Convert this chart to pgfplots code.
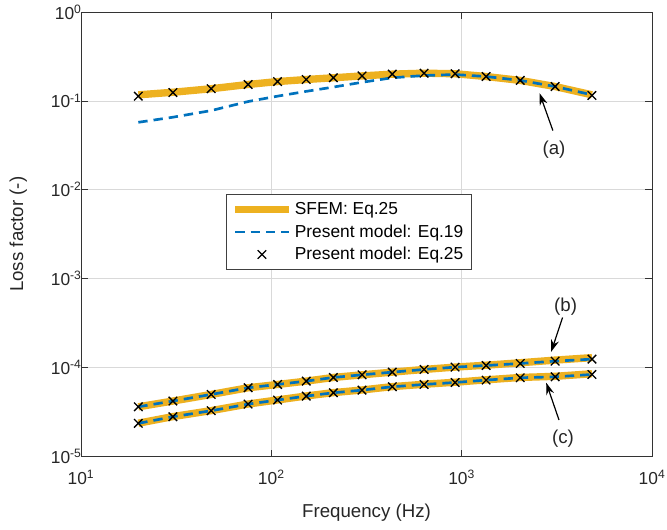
\documentclass[border=0pt]{standalone}
\usepackage{fontspec}
\setmainfont{Liberation Sans}
\usepackage{pgfplots}
\pgfplotsset{compat=1.18}
\usetikzlibrary{arrows.meta}
\definecolor{morange}{rgb}{0.929,0.694,0.125}
\definecolor{mblue}{rgb}{0,0.447,0.741}
\begin{document}
\begin{tikzpicture}[font=\fontsize{13}{15}\selectfont]
\useasboundingbox (-60.7pt,-54.7pt) rectangle (439.2pt,342pt);
\begin{axis}[
 at={(0pt,0pt)}, anchor=south west,
 width=428pt, height=333pt, scale only axis,
 xmode=log, ymode=log, log basis x=10, log basis y=10,
 xmin=10, xmax=1e4, ymin=1e-5, ymax=1,
 xtick={10,100,1000,10000}, ytick={1e-5,1e-4,1e-3,1e-2,1e-1,1},
 xticklabel={\pgfmathtruncatemacro\e{round(\tick)}10\textsuperscript{\e}},
 yticklabel={\pgfmathtruncatemacro\e{round(\tick)}10\textsuperscript{\e}},
 tick label style={font=\fontsize{13}{15}\selectfont, text=black!85},
 xticklabel style={yshift=-7pt},
 yticklabel style={xshift=4pt},
 label style={font=\fontsize{14}{16}\selectfont, text=black!85},
 xlabel style={at={(axis description cs:0.5,-0.126)}, anchor=center},
 ylabel style={at={(axis description cs:-0.110,0.5)}, anchor=center},
 grid=both,
 major grid style={black!15, line width=0.5pt},
 minor grid style={black!40, dotted, line width=0.5pt},
 tick align=inside, major tick length=5pt, minor tick length=2.8pt,
 every tick/.style={black!80, line width=0.5pt},
 axis line style={black!80, line width=0.6pt},
 xlabel={Frequency (Hz)}, ylabel={Loss factor (-)},
 legend cell align=left,
 legend style={at={(0.254,0.590)}, anchor=north west, draw=black!75, line width=0.5pt,
   fill=white, font=\fontsize{13}{15}\selectfont, inner xsep=4pt, inner ysep=4pt, row sep=2pt},
 legend image code/.code={\draw[mark repeat=2,mark phase=2,#1] plot coordinates {(0cm,0cm) (0.7cm,0cm) (1.4cm,0cm)};},
]
% SFEM: Eq.25
\addplot[morange, line width=5.5pt, line join=round] coordinates {
(20.01,0.117)(30.4,0.125)(48.3,0.137)(75.5,0.153)(107.8,0.165)(152.5,0.174)(211.8,0.182)(299.6,0.191)(431.9,0.200)(634.5,0.205)(923.3,0.202)(1344,0.188)(2030,0.170)(3096,0.145)(4833,0.117)};
\addlegendentry{SFEM: Eq.25}
\addplot[morange, line width=5.5pt, line join=round, forget plot] coordinates {
(20.01,3.61e-5)(30.4,4.19e-5)(48.3,4.97e-5)(75.5,5.91e-5)(107.8,6.44e-5)(152.5,7.02e-5)(211.8,7.72e-5)(299.6,8.27e-5)(431.9,8.86e-5)(634.5,9.5e-5)(923.3,1.01e-4)(1344,1.06e-4)(2030,1.13e-4)(3096,1.21e-4)(4833,1.29e-4)};
\addplot[morange, line width=5.5pt, line join=round, forget plot] coordinates {
(20.01,2.36e-5)(30.4,2.80e-5)(48.3,3.27e-5)(75.5,3.88e-5)(107.8,4.31e-5)(152.5,4.78e-5)(211.8,5.21e-5)(299.6,5.58e-5)(431.9,6.09e-5)(634.5,6.47e-5)(923.3,6.82e-5)(1344,7.26e-5)(2030,7.72e-5)(3096,7.95e-5)(4833,8.5e-5)};
% Present model: Eq.19
\addplot[mblue, line width=2pt, dash pattern=on 7pt off 4.5pt] coordinates {
(20.01,0.0574)(30.4,0.0655)(48.3,0.0778)(75.5,0.0983)(107.8,0.113)(152.5,0.128)(211.8,0.143)(299.6,0.162)(431.9,0.182)(634.5,0.193)(923.3,0.198)(1344,0.188)(2030,0.170)(3096,0.145)(4833,0.117)};
\addlegendentry{Present model: Eq.19}
\addplot[mblue, line width=2pt, dash pattern=on 7pt off 4.5pt, forget plot] coordinates {
(20.01,3.61e-5)(30.4,4.19e-5)(48.3,4.97e-5)(75.5,5.91e-5)(107.8,6.44e-5)(152.5,7.02e-5)(211.8,7.72e-5)(299.6,8.27e-5)(431.9,8.86e-5)(634.5,9.5e-5)(923.3,1.009e-4)(1344,1.052e-4)(2030,1.109e-4)(3096,1.178e-4)(4833,1.241e-4)};
\addplot[mblue, line width=2pt, dash pattern=on 7pt off 4.5pt, forget plot] coordinates {
(20.01,2.35e-5)(30.4,2.79e-5)(48.3,3.26e-5)(75.5,3.87e-5)(107.8,4.30e-5)(152.5,4.76e-5)(211.8,5.19e-5)(299.6,5.56e-5)(431.9,6.07e-5)(634.5,6.44e-5)(923.3,6.78e-5)(1344,7.21e-5)(2030,7.66e-5)(3096,7.85e-5)(4833,8.34e-5)};
% Present model: Eq.25
\addplot[black, only marks, mark=x, mark size=4.5pt, mark options={line width=1pt}] coordinates {
(20.01,0.113)(30.4,0.124)(48.3,0.137)(75.5,0.153)(107.8,0.165)(152.5,0.174)(211.8,0.182)(299.6,0.191)(431.9,0.200)(634.5,0.205)(923.3,0.202)(1344,0.188)(2030,0.170)(3096,0.145)(4833,0.115)};
\addlegendentry{Present model: Eq.25}
\addplot[black, only marks, mark=x, mark size=4.5pt, mark options={line width=1pt}, forget plot] coordinates {
(20.01,3.61e-5)(30.4,4.19e-5)(48.3,4.97e-5)(75.5,5.91e-5)(107.8,6.44e-5)(152.5,7.02e-5)(211.8,7.72e-5)(299.6,8.27e-5)(431.9,8.86e-5)(634.5,9.5e-5)(923.3,1.009e-4)(1344,1.052e-4)(2030,1.109e-4)(3096,1.178e-4)(4833,1.241e-4)};
\addplot[black, only marks, mark=x, mark size=4.5pt, mark options={line width=1pt}, forget plot] coordinates {
(20.01,2.35e-5)(30.4,2.79e-5)(48.3,3.26e-5)(75.5,3.87e-5)(107.8,4.30e-5)(152.5,4.76e-5)(211.8,5.19e-5)(299.6,5.56e-5)(431.9,6.07e-5)(634.5,6.44e-5)(923.3,6.78e-5)(1344,7.21e-5)(2030,7.66e-5)(3096,7.85e-5)(4833,8.34e-5)};
% annotations
\draw[black, line width=0.9pt, -{Stealth[length=9pt,width=6pt]}] (axis cs:3013,0.0463) -- (axis cs:2564,0.122);
\node[text=black!85, font=\fontsize{14}{16}\selectfont] at (axis cs:3055,0.028) {(a)};
\draw[black, line width=0.9pt, -{Stealth[length=9pt,width=6pt]}] (axis cs:3388,3.65e-4) -- (axis cs:2952,1.5e-4);
\node[text=black!85, font=\fontsize{14}{16}\selectfont] at (axis cs:3516,4.8e-4) {(b)};
\draw[black, line width=0.9pt, -{Stealth[length=9pt,width=6pt]}] (axis cs:3245,2.56e-5) -- (axis cs:2780,6.73e-5);
\node[text=black!85, font=\fontsize{14}{16}\selectfont] at (axis cs:3404,1.59e-5) {(c)};
\end{axis}
\end{tikzpicture}
\end{document}
